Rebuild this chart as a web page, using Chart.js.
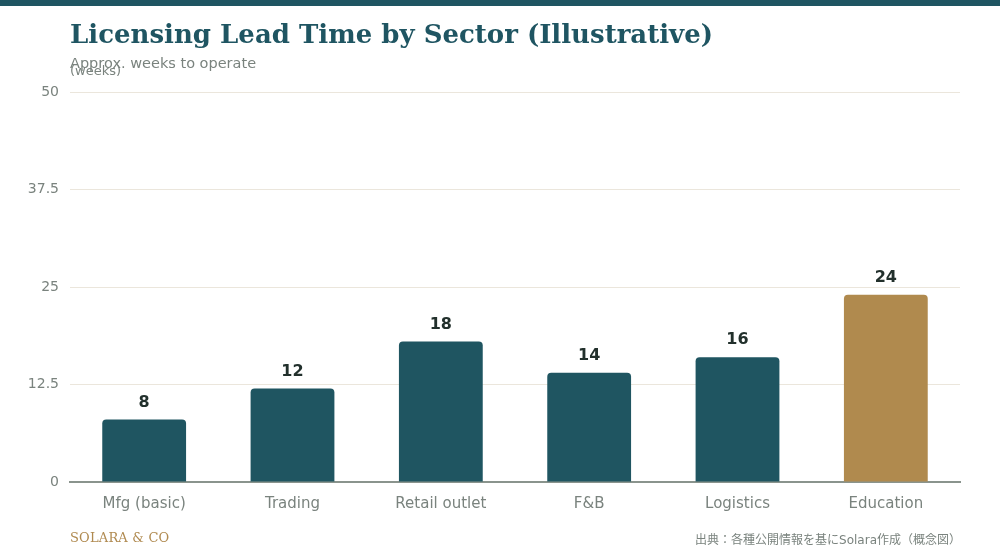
<!DOCTYPE html>
<html>
<head>
<meta charset="utf-8">
<script src="https://cdn.jsdelivr.net/npm/chart.js@4.4.1/dist/chart.umd.min.js"></script>
<style>
    html, body { margin: 0; padding: 0; background: #ffffff; }
    #wrap { position: relative; width: 1000px; height: 560px; overflow: hidden; }
    #topbar { position: absolute; left: 0; top: 0; width: 1000px; height: 6px; background: #1f5562; }
    #title { position: absolute; left: 70px; top: 19px; font: bold 26px "DejaVu Serif", serif; color: #1f5562; white-space: nowrap; }
    #subtitle { position: absolute; left: 70px; top: 55px; font: 14.5px "DejaVu Sans", sans-serif; color: #7a837e; white-space: nowrap; }
    #unit { position: absolute; left: 70px; top: 63px; font: 13px "DejaVu Sans", sans-serif; color: #7a837e; white-space: nowrap; }
    #brand { position: absolute; left: 70px; top: 530px; font: 13px "DejaVu Serif", serif; color: #b08a50; letter-spacing: 0.2px; }
    #source { position: absolute; right: 39px; top: 530px; font: 12px "DejaVu Sans", "Noto Sans CJK JP", sans-serif; color: #7a837e; white-space: nowrap; }
    #chartBox { position: absolute; left: 0; top: 0; width: 1000px; height: 560px; }
</style>
</head>
<body>
<div id="wrap">
    <div id="topbar"></div>
    <div id="chartBox"><canvas id="leadChart" width="1000" height="560"></canvas></div>
    <div id="title">Licensing Lead Time by Sector (Illustrative)</div>
    <div id="subtitle">Approx. weeks to operate</div>
    <div id="unit">(weeks)</div>
    <div id="brand">SOLARA &amp; CO</div>
    <div id="source">出典：各種公開情報を基にSolara作成（概念図）</div>
</div>

<script>
// Chart data
const sectors = ['Mfg (basic)', 'Trading', 'Retail outlet', 'F&B', 'Logistics', 'Education'];
const leadWeeks = [8, 12, 18, 14, 16, 24];
const yTicks = [0, 12.5, 25, 37.5, 50];

const barColors = sectors.map(function (s) {
    return s === 'Education' ? '#b08a4e' : '#1f5561';
});

// Value labels above each bar
const valueLabels = {
    id: 'valueLabels',
    afterDatasetsDraw(chart) {
        const ctx = chart.ctx;
        const meta = chart.getDatasetMeta(0);
        ctx.save();
        ctx.font = 'bold 16px "DejaVu Sans", sans-serif';
        ctx.fillStyle = '#22302c';
        ctx.textAlign = 'center';
        ctx.textBaseline = 'bottom';
        meta.data.forEach(function (bar, i) {
            ctx.fillText(String(leadWeeks[i]), bar.x, bar.y - 9);
        });
        ctx.restore();
    }
};

const ctx = document.getElementById('leadChart').getContext('2d');
new Chart(ctx, {
    type: 'bar',
    data: {
        labels: sectors,
        datasets: [{
            data: leadWeeks,
            backgroundColor: barColors,
            borderRadius: 4,
            borderSkipped: 'bottom',
            barPercentage: 0.565,
            categoryPercentage: 1.0
        }]
    },
    options: {
        responsive: false,
        animation: false,
        devicePixelRatio: 1,
        layout: {
            padding: { left: 0, right: 40, top: 92, bottom: 38 }
        },
        plugins: {
            legend: { display: false },
            tooltip: { enabled: false }
        },
        scales: {
            x: {
                grid: { display: false },
                border: { display: true, color: '#8a948d', width: 2 },
                ticks: {
                    color: '#7a837e',
                    font: { family: '"DejaVu Sans"', size: 15 },
                    padding: 5
                },
                afterFit(scale) { scale.height = 40; }
            },
            y: {
                min: 0,
                max: 50,
                afterBuildTicks(scale) {
                    scale.ticks = yTicks.map(function (v) { return { value: v }; });
                },
                grid: { color: '#ebe6dc', lineWidth: 1, drawTicks: false },
                border: { display: false },
                ticks: {
                    color: '#7a837e',
                    font: { family: '"DejaVu Sans"', size: 14 },
                    padding: 11
                },
                afterFit(scale) { scale.width = 70; }
            }
        }
    },
    plugins: [valueLabels]
});
</script>
</body>
</html>
